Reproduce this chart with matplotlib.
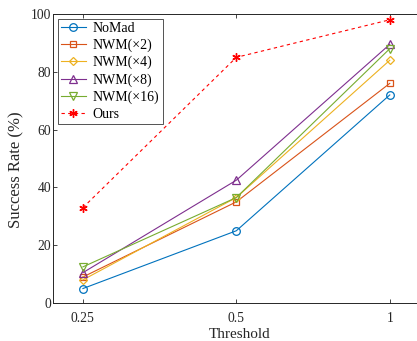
import matplotlib
matplotlib.use("Agg")
import matplotlib.pyplot as plt

thresholds = ["0.25", "0.5", "1"]
nomad = [5, 25, 72]
nwm2 = [9, 35, 76]
nwm4 = [8, 36.5, 84]
nwm8 = [10.5, 42.5, 89.5]
nwm16 = [12.5, 36.5, 88]
ours = [33, 85, 98]

plt.rcParams['font.family'] = ['Liberation Serif', 'DejaVu Serif']
plt.rcParams['font.size'] = 10

fig = plt.figure(figsize=(4.17, 3.41), dpi=100)
ax = fig.add_axes([53/417, 1-303/341, (422-53)/417, (303-14)/341])
x = [1, 2, 3]
lw = 0.8
ms = 5.5
ax.plot(x, nomad, color='#0072BD', marker='o', mfc='none', lw=lw, ms=ms, mew=0.9, label='NoMad')
ax.plot(x, nwm2, color='#D95319', marker='s', mfc='none', lw=lw, ms=ms-1.2, mew=0.9, label='NWM(×2)')
ax.plot(x, nwm4, color='#EDB120', marker='D', mfc='none', lw=lw, ms=ms-1, mew=0.9, label='NWM(×4)')
ax.plot(x, nwm8, color='#7E2F8E', marker='^', mfc='none', lw=lw, ms=ms+0.5, mew=0.9, label='NWM(×8)')
ax.plot(x, nwm16, color='#77AC30', marker='v', mfc='none', lw=lw, ms=ms+0.5, mew=0.9, label='NWM(×16)')
ax.plot(x, ours, color='#FF0000', marker=(6, 2, 0), ls=(0, (3, 3)), lw=lw, ms=ms+0.5, mew=1.0, label='Ours')

ax.set_xlim(0.805, 3.21)
ax.set_ylim(0, 100)
ax.set_xticks(x)
ax.set_xticklabels(thresholds)
ax.set_yticks([0, 20, 40, 60, 80, 100])
ax.tick_params(direction='in', top=True, right=True, length=3, width=0.6, colors='#262626', labelsize=9.8)
ax.tick_params(axis='y', pad=1.2)
ax.tick_params(axis='x', pad=6.5)
for s in ax.spines.values():
    s.set_linewidth(0.7)
    s.set_color('#262626')
ax.set_xlabel('Threshold', fontsize=11, color='#262626')
ax.set_ylabel('Success Rate (%)', fontsize=12, color='#262626')
ax.xaxis.set_label_coords(0.505, -0.0865)
ax.yaxis.set_label_coords(-0.078, 0.46)
leg = ax.legend(loc='upper left', fontsize=10, frameon=True, fancybox=False, edgecolor='#262626',
                borderaxespad=0.35, handlelength=1.8, labelspacing=0.27, borderpad=0.22, handletextpad=0.5)
leg.get_frame().set_linewidth(0.7)
fig.savefig('out.png', dpi=100)
